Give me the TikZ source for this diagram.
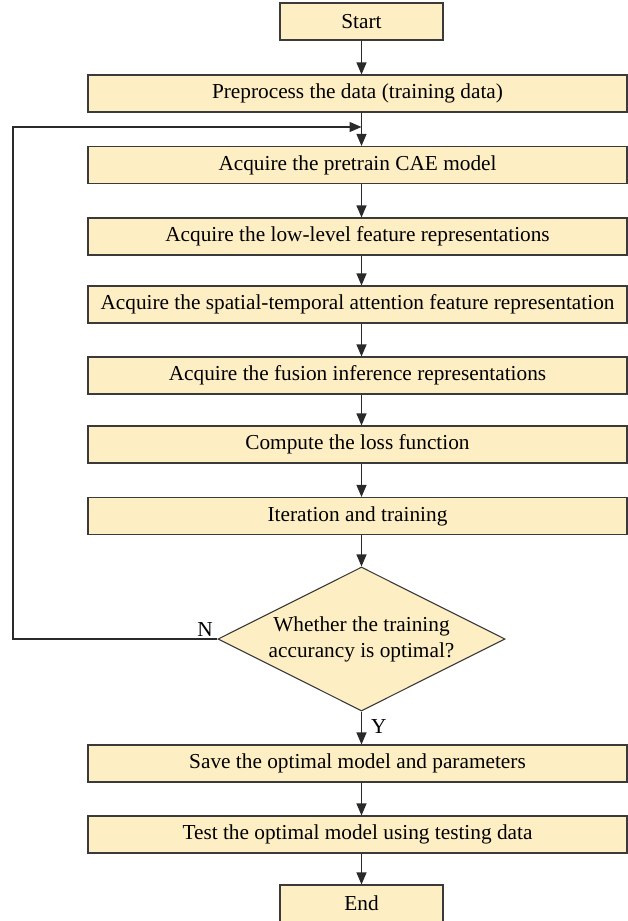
\documentclass[tikz,border=0pt]{standalone}
\usepackage{fontspec}
\setmainfont{Liberation Serif}
\usetikzlibrary{arrows.meta,shapes.geometric}
\definecolor{boxfill}{HTML}{FDEEC4}
\definecolor{boxline}{HTML}{3A3A3A}
\definecolor{arrowline}{HTML}{2A2A2A}
\tikzset{
  stepbox/.style={draw=boxline, fill=boxfill, line width=1.1pt,
    minimum height=37pt, inner sep=0pt, font=\fontsize{21.3}{25}\selectfont},
  widebox/.style={stepbox, minimum width=539pt},
  termbox/.style={stepbox, minimum width=163pt},
  decision/.style={diamond, aspect=2, draw=boxline, fill=boxfill, line width=1.1pt,
    minimum width=287pt, minimum height=144pt, inner sep=0pt, align=center,
    font=\fontsize{21.3}{26}\selectfont},
  flow/.style={draw=arrowline, line width=1.2pt, -{Triangle[length=12pt,width=10pt]}},
  lbl/.style={inner sep=0pt, font=\fontsize{21.3}{25}\selectfont}
}
\begin{document}
\begin{tikzpicture}[x=1pt, y=-1pt]
  \useasboundingbox (0,0) rectangle (627,921);

  % process steps
  \node[termbox] (start) at (361.5,21.5) {Start};
  \node[widebox] (pre)  at (357.5,93.5)  {Preprocess the data (training data)};
  \node[widebox] (cae)  at (357.5,165)   {Acquire the pretrain CAE model};
  \node[widebox] (low)  at (357.5,236.5) {Acquire the low-level feature representations};
  \node[widebox] (att)  at (357.5,304.5) {Acquire the spatial-temporal attention feature representation};
  \node[widebox] (fus)  at (357.5,375.5) {Acquire the fusion inference representations};
  \node[widebox] (loss) at (357.5,444.5) {Compute the loss function};
  \node[widebox] (iter) at (357.5,516)   {Iteration and training};
  \node[decision] (dec) at (361.5,639)   {Whether the training\\accurancy is optimal?};
  \node[widebox] (save) at (357.5,763.5) {Save the optimal model and parameters};
  \node[widebox] (test) at (357.5,834.5) {Test the optimal model using testing data};
  \node[termbox] (end)  at (361.5,903.5) {End};

  % main flow
  \draw[flow] (start) -- (start |- pre.north);
  \draw[flow] (pre.south -| start) -- (cae.north -| start);
  \draw[flow] (cae.south -| start) -- (low.north -| start);
  \draw[flow] (low.south -| start) -- (att.north -| start);
  \draw[flow] (att.south -| start) -- (fus.north -| start);
  \draw[flow] (fus.south -| start) -- (loss.north -| start);
  \draw[flow] (loss.south -| start) -- (iter.north -| start);
  \draw[flow] (iter.south -| start) -- (dec.north);
  \draw[flow] (dec.south) -- (save.north -| start);
  \draw[flow] (save.south -| start) -- (test.north -| start);
  \draw[flow] (test.south -| start) -- (end.north);

  % feedback loop on "N"
  \coordinate (loopx) at (13,639);
  \coordinate (loopin) at (361.5,127);
  \draw[flow] (dec.west) -- (dec.west -| loopx) |- (loopin);

  \node[lbl, anchor=south east] (nlab) at (213,637) {N};
  \node[lbl, anchor=west] (ylab) at (371,727) {Y};
\end{tikzpicture}
\end{document}
